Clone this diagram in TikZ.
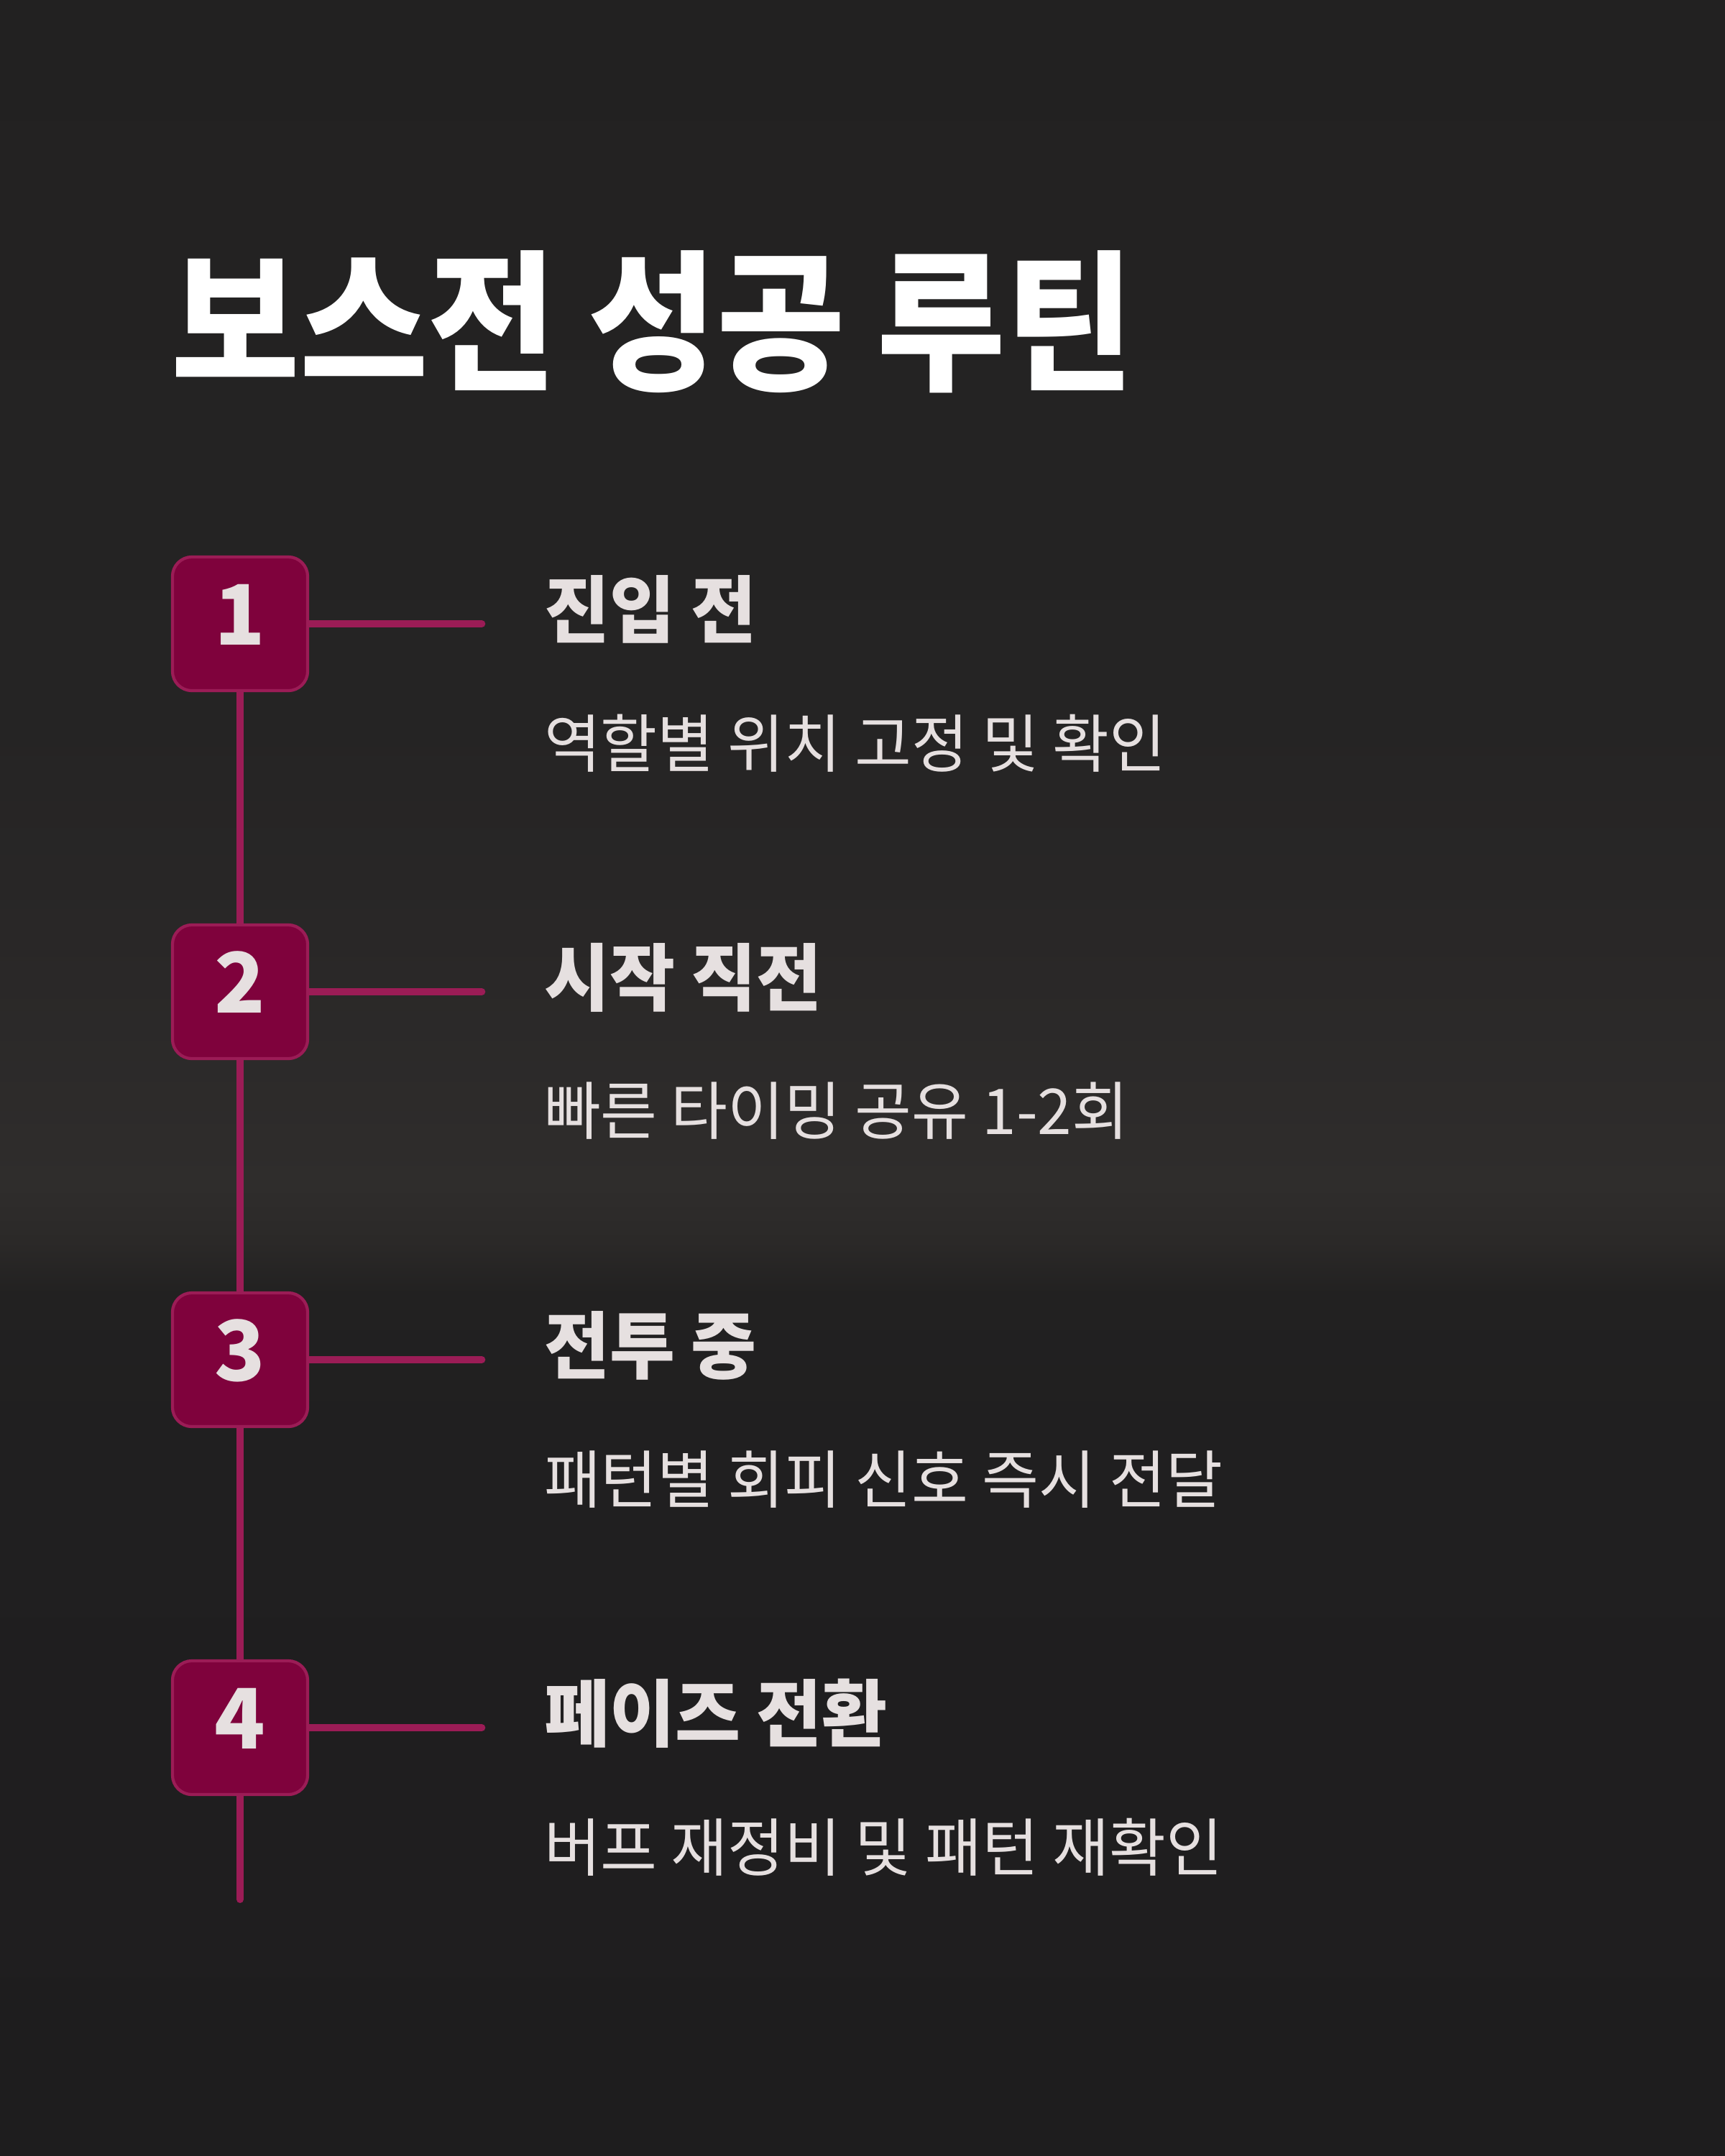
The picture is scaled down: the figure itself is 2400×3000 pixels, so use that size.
\documentclass[tikz,border=0pt]{standalone}
\usepackage{fontspec}
\usetikzlibrary{positioning}
\newfontfamily\bigfont[FakeStretch=0.92]{Noto Sans CJK KR}
\newfontfamily\headfont[FakeStretch=0.97]{Noto Sans CJK KR}
\newfontfamily\notefont[FakeStretch=0.975]{Noto Sans CJK KR}
\newfontfamily\digitfont{Noto Sans CJK KR}
\definecolor{wine}{HTML}{7F023C}
\definecolor{berry}{HTML}{9B1C56}
\definecolor{ash}{HTML}{E6E0E0}
\definecolor{bgtop}{HTML}{222121}
\definecolor{bgupper}{HTML}{252424}
\definecolor{bgmid}{HTML}{292727}
\definecolor{bgglow}{HTML}{2F2D2C}
\definecolor{bgfade}{HTML}{2B2928}
\definecolor{bgdrop}{HTML}{222121}
\definecolor{bglow}{HTML}{201F20}
\definecolor{bgbot}{HTML}{1E1D1E}
\pgfdeclareverticalshading{backdrop}{100bp}{color(0bp)=(bgbot); color(25bp)=(bgbot);
  color(41.67bp)=(bglow); color(45bp)=(bgdrop); color(46.2bp)=(bgfade); color(47.5bp)=(bgglow);
  color(53.3bp)=(bgmid); color(58.3bp)=(bgupper); color(75bp)=(bgtop); color(100bp)=(bgtop)}
\pgfdeclarelayer{back}
\pgfdeclarelayer{wires}
\pgfsetlayers{back,wires,main}

\begin{document}
\begin{tikzpicture}[x=0.01cm,y=-0.01cm,
    stepno/.style={draw=berry,fill=wine,line width=1.2pt,rounded corners=7.7pt,minimum width=1.88cm,
      minimum height=1.86cm,inner sep=0pt,text=ash,text height=0.84cm,text depth=0.26cm,
      font=\digitfont\bfseries\fontsize{33}{33}\selectfont},
    head/.style={inner sep=0pt,text=ash,font=\headfont\bfseries\fontsize{29}{29}\selectfont},
    note/.style={inner sep=0pt,anchor=west,text=ash,font=\notefont\fontsize{25}{25}\selectfont},
    wire/.style={draw=berry,line width=2.85pt,line cap=round}]
    \useasboundingbox (0,0) rectangle (2400,3000);
    \begin{pgfonlayer}{back}
      \shade[shading=backdrop] (0,0) rectangle (2400,3000);
    \end{pgfonlayer}

    \node[anchor=west,inner sep=0pt,text=white,font=\bigfont\bfseries\fontsize{60}{60}\selectfont] (title)
      at (238,448) {보스전 성공 루틴};

    \node[stepno] (n1) at (334,868) {1};
    \node[stepno] (n2) at (334,1380) {2};
    \node[stepno] (n3) at (334,1892) {3};
    \node[stepno] (n4) at (334,2404) {4};

    \node[head,right=3.26cm of n1,yshift=2mm] (h1) {진입 전};
    \node[head,right=3.26cm of n2,yshift=2mm] (h2) {시작 직전};
    \node[head,right=3.26cm of n3,yshift=2mm] (h3) {전투 중};
    \node[head,right=3.26cm of n4,yshift=2mm] (h4) {페이즈 전환};

    \node[note] (d1) at ([yshift=-1.86cm]h1.west) {역할별 위치 고정 및 확인};
    \node[note] (d2) at ([yshift=-1.86cm]h2.west) {빠른 타이밍 공유 1-2회};
    \node[note] (d3) at ([yshift=-1.86cm]h3.west) {패턴별 회피 신호 즉시 전달};
    \node[note] (d4) at ([yshift=-1.86cm]h4.west) {버프 재정비 및 패턴 재확인};

    % free ends of the connectors
    \coordinate[right=2.4cm of n1.east] (t1);
    \coordinate[right=2.4cm of n2.east] (t2);
    \coordinate[right=2.4cm of n3.east] (t3);
    \coordinate[right=2.4cm of n4.east] (t4);
    \coordinate (tail) at (334,2643);

    \begin{pgfonlayer}{wires}
      \draw[wire] (n1.center) -- (n2.center) -- (n3.center) -- (n4.center) -- (tail);
      \draw[wire] (n1.center) -- (t1);
      \draw[wire] (n2.center) -- (t2);
      \draw[wire] (n3.center) -- (t3);
      \draw[wire] (n4.center) -- (t4);
    \end{pgfonlayer}
\end{tikzpicture}
\end{document}
